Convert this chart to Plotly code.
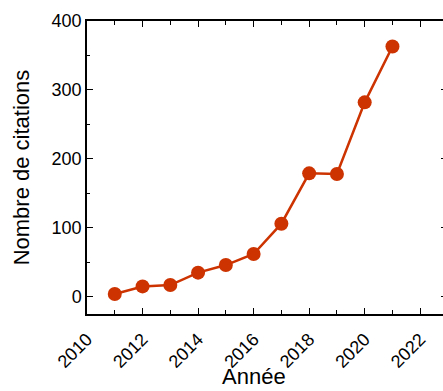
import plotly.graph_objects as go

# Citations per year
years = [2011, 2012, 2013, 2014, 2015, 2016, 2017, 2018, 2019, 2020, 2021]
citations = [4, 15, 17, 35, 46, 62, 106, 179, 178, 282, 363]

x_ticks = [2010, 2012, 2014, 2016, 2018, 2020, 2022]
y_ticks = [0, 100, 200, 300, 400]

line_color = "#CC3300"
font_family = "Liberation Sans, Arial, sans-serif"

fig = go.Figure()
fig.add_trace(go.Scatter(
    x=years, y=citations, mode="lines+markers",
    line=dict(color=line_color, width=2.5),
    marker=dict(color=line_color, size=14),
    showlegend=False,
))
# right-hand mirror ticks without a spine
fig.add_trace(go.Scatter(x=[None], y=[None], yaxis="y2", showlegend=False))

fig.update_layout(
    width=443, height=391,
    margin=dict(l=87, r=0, t=21, b=77),
    paper_bgcolor="white", plot_bgcolor="white",
    font=dict(family=font_family, color="black", size=18),
    xaxis=dict(
        range=[2010, 2022.82], tickvals=x_ticks, ticktext=[str(v) for v in x_ticks],
        tickangle=-45, ticks="inside", ticklen=6, tickwidth=1.2, tickcolor="black",
        minor=dict(dtick=1, tick0=2010, ticks="inside", ticklen=4, tickcolor="black", tickwidth=1.2),
        showline=True, linecolor="black", linewidth=1.5, mirror="ticks",
        showgrid=False, zeroline=False,
        tickfont=dict(size=18), ticklabelstandoff=6,
    ),
    yaxis=dict(
        range=[-25, 400], tickvals=y_ticks,
        ticks="inside", ticklen=6, tickwidth=1.2, tickcolor="black",
        minor=dict(dtick=50, tick0=0, ticks="inside", ticklen=3, tickcolor="black", tickwidth=1.2),
        showline=True, linecolor="black", linewidth=1.5,
        showgrid=False, zeroline=False,
        title=dict(text="Nombre de citations", font=dict(size=22), standoff=16),
        tickfont=dict(size=18),
    ),
    yaxis2=dict(
        range=[-25, 400], tickvals=y_ticks, overlaying="y", side="right",
        ticks="inside", ticklen=2, tickwidth=1.2, tickcolor="black",
        showticklabels=False, showline=False, showgrid=False, zeroline=False,
    ),
    annotations=[dict(
        text="Année", x=2016, xref="x", y=-0.166, yref="paper",
        xanchor="center", yanchor="top", showarrow=False, borderpad=0,
        font=dict(size=22),
    )],
)

fig.write_html("out.html")
